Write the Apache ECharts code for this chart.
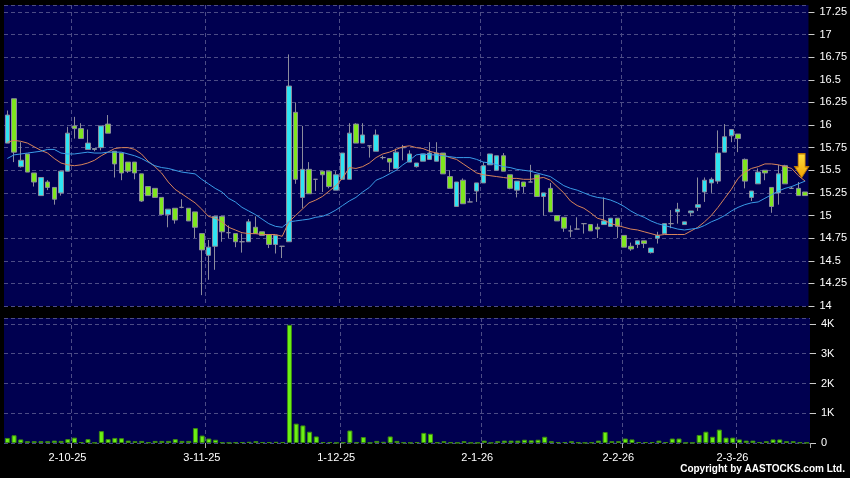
<!DOCTYPE html>
<html>
<head>
<meta charset="utf-8">
<script src="https://cdn.jsdelivr.net/npm/echarts@6/dist/echarts.min.js"></script>
<style>
html,body{margin:0;padding:0;background:#000;}
#chart{width:850px;height:478px;}
</style>
</head>
<body>
<div id="chart"></div>
<script>
const categories = ['17-9-25','18-9-25','19-9-25','22-9-25','23-9-25','24-9-25','25-9-25','26-9-25','29-9-25','30-9-25',
'2-10-25','3-10-25','6-10-25','8-10-25','9-10-25','10-10-25','13-10-25','14-10-25','15-10-25','16-10-25',
'17-10-25','20-10-25','21-10-25','22-10-25','23-10-25','24-10-25','27-10-25','28-10-25','30-10-25','31-10-25',
'3-11-25','4-11-25','5-11-25','6-11-25','7-11-25','10-11-25','11-11-25','12-11-25','13-11-25','14-11-25',
'17-11-25','18-11-25','19-11-25','20-11-25','21-11-25','24-11-25','25-11-25','26-11-25','27-11-25','28-11-25',
'1-12-25','2-12-25','3-12-25','4-12-25','5-12-25','8-12-25','9-12-25','10-12-25','11-12-25','12-12-25',
'15-12-25','16-12-25','17-12-25','18-12-25','19-12-25','22-12-25','23-12-25','24-12-25','29-12-25','30-12-25',
'31-12-25','2-1-26','5-1-26','6-1-26','7-1-26','8-1-26','9-1-26','12-1-26','13-1-26','14-1-26',
'15-1-26','16-1-26','19-1-26','20-1-26','21-1-26','22-1-26','23-1-26','26-1-26','27-1-26','28-1-26',
'29-1-26','30-1-26','2-2-26','3-2-26','4-2-26','5-2-26','6-2-26','9-2-26','10-2-26','11-2-26',
'12-2-26','13-2-26','16-2-26','20-2-26','23-2-26','24-2-26','25-2-26','26-2-26','27-2-26','2-3-26',
'3-3-26','4-3-26','5-3-26','6-3-26','9-3-26','10-3-26','11-3-26','12-3-26','13-3-26','16-3-26'];

const xTickLabels = ['2-10-25','3-11-25','1-12-25','2-1-26','2-2-26','2-3-26'];

const opens = [15.80,16.29,15.54,15.68,15.47,15.22,15.37,15.31,15.25,15.49,
15.99,15.96,15.73,15.73,15.75,16.01,15.71,15.69,15.59,15.59,
15.46,15.32,15.30,15.20,15.01,15.08,15.09,15.08,15.04,14.80,
14.56,14.66,14.99,14.81,14.80,14.71,14.71,14.87,14.82,14.79,
14.68,14.66,14.71,16.14,15.20,15.51,15.40,15.49,15.49,15.28,
15.40,15.40,16.01,15.80,15.77,15.71,15.64,15.63,15.52,15.75,
15.59,15.54,15.60,15.62,15.60,15.69,15.43,15.10,15.39,15.15,
15.27,15.36,15.56,15.50,15.66,15.45,15.28,15.37,15.37,15.45,
15.21,15.30,15.00,14.98,14.83,14.85,14.91,14.90,14.87,14.90,
14.88,14.97,14.78,14.66,14.68,14.72,14.59,14.75,14.80,14.91,
15.04,14.90,15.03,15.09,15.26,15.36,15.38,15.70,15.88,15.90,
15.62,15.20,15.35,15.50,15.31,15.25,15.55,15.30,15.30,15.26];

const closes = [16.11,15.70,15.61,15.48,15.37,15.42,15.31,15.18,15.49,15.91,
15.96,15.85,15.80,15.74,15.99,15.91,15.57,15.47,15.49,15.47,
15.16,15.22,15.20,15.01,15.07,14.95,15.09,14.94,14.87,14.62,
14.65,14.99,14.82,14.81,14.71,14.71,14.93,14.80,14.78,14.68,
14.78,14.66,16.43,15.40,15.51,15.24,15.40,15.45,15.32,15.45,
15.69,15.91,15.80,15.89,15.77,15.89,15.64,15.59,15.70,15.75,
15.68,15.58,15.68,15.69,15.69,15.46,15.30,15.37,15.13,15.15,
15.36,15.55,15.68,15.66,15.49,15.30,15.38,15.32,15.37,15.21,
15.25,15.04,14.94,14.86,14.83,14.85,14.91,14.83,14.85,14.94,
14.97,14.88,14.65,14.63,14.72,14.69,14.64,14.78,14.91,14.91,
15.07,14.93,15.05,15.12,15.39,15.40,15.69,15.87,15.95,15.85,
15.38,15.27,15.48,15.47,15.10,15.46,15.35,15.30,15.22,15.22];

const lows = [15.80,15.59,15.53,15.48,15.32,15.22,15.28,15.12,15.22,15.49,
15.85,15.85,15.73,15.71,15.72,15.91,15.42,15.39,15.47,15.40,
15.15,15.22,15.20,15.01,14.87,14.91,15.08,14.94,14.75,14.12,
14.29,14.40,14.71,14.75,14.65,14.59,14.71,14.80,14.78,14.64,
14.58,14.53,14.71,15.35,15.08,15.24,15.27,15.26,15.30,15.28,
15.40,15.40,15.80,15.80,15.64,15.71,15.62,15.48,15.52,15.61,
15.59,15.53,15.60,15.62,15.60,15.46,15.30,15.10,15.13,15.15,
15.15,15.36,15.56,15.50,15.49,15.29,15.20,15.25,15.37,15.21,
15.00,15.04,14.94,14.82,14.76,14.85,14.80,14.83,14.75,14.90,
14.88,14.75,14.65,14.61,14.64,14.64,14.58,14.69,14.80,14.86,
14.91,14.90,14.99,15.05,15.15,15.25,15.35,15.70,15.81,15.70,
15.30,15.16,15.35,15.39,15.03,15.12,15.35,15.30,15.22,15.22];

const highs = [16.16,16.29,15.81,15.68,15.47,15.42,15.39,15.31,15.49,15.98,
16.09,16.02,15.95,15.74,15.99,16.11,15.71,15.69,15.59,15.59,
15.46,15.32,15.30,15.20,15.07,15.08,15.18,15.08,15.04,14.80,
14.73,14.99,14.99,14.89,14.80,14.80,14.96,14.99,14.82,14.79,
14.78,14.66,16.78,16.25,15.99,15.59,15.40,15.49,15.49,15.49,
15.69,16.02,16.02,16.02,15.77,15.95,15.66,15.63,15.74,15.78,
15.72,15.58,15.68,15.81,15.81,15.69,15.50,15.37,15.41,15.19,
15.36,15.59,15.68,15.66,15.69,15.45,15.38,15.37,15.56,15.45,
15.25,15.36,15.00,14.98,14.89,14.98,14.91,14.90,14.91,15.20,
14.97,14.97,14.78,14.70,14.72,14.72,14.64,14.82,14.91,15.06,
15.14,14.93,15.05,15.42,15.42,15.42,15.94,16.01,15.95,15.90,
15.63,15.27,15.52,15.50,15.31,15.56,15.56,15.32,15.37,15.26];

const maShort = [15.81,15.83,15.82,15.80,15.76,15.72,15.69,15.63,15.58,15.56,
15.55,15.56,15.58,15.61,15.66,15.70,15.74,15.75,15.75,15.73,
15.68,15.60,15.54,15.47,15.37,15.29,15.24,15.19,15.14,15.07,
14.99,14.97,14.93,14.87,14.84,14.81,14.80,14.80,14.79,14.79,
14.79,14.77,14.93,15.00,15.07,15.14,15.17,15.21,15.27,15.33,
15.41,15.53,15.52,15.54,15.58,15.64,15.68,15.70,15.73,15.76,
15.77,15.75,15.74,15.71,15.69,15.67,15.64,15.62,15.57,15.52,
15.47,15.45,15.44,15.43,15.42,15.41,15.41,15.40,15.40,15.41,
15.42,15.39,15.32,15.25,15.16,15.11,15.08,15.03,14.97,14.95,
14.91,14.89,14.87,14.85,14.84,14.82,14.80,14.78,14.79,14.79,
14.79,14.79,14.83,14.87,14.93,15.00,15.09,15.19,15.29,15.41,
15.48,15.52,15.54,15.57,15.57,15.56,15.54,15.52,15.44,15.38];

const maLong = [15.63,15.67,15.68,15.69,15.70,15.71,15.73,15.73,15.69,15.68,
15.68,15.69,15.70,15.69,15.69,15.70,15.70,15.70,15.68,15.66,
15.63,15.59,15.55,15.53,15.52,15.50,15.48,15.47,15.46,15.40,
15.35,15.30,15.26,15.19,15.15,15.09,15.05,15.01,14.96,14.91,
14.88,14.87,14.93,14.94,14.95,14.96,14.98,14.99,15.02,15.06,
15.11,15.16,15.20,15.26,15.31,15.39,15.42,15.46,15.50,15.56,
15.61,15.67,15.68,15.67,15.67,15.66,15.65,15.64,15.64,15.64,
15.62,15.59,15.58,15.56,15.54,15.53,15.51,15.50,15.49,15.47,
15.45,15.43,15.38,15.33,15.30,15.28,15.25,15.22,15.20,15.19,
15.17,15.14,15.10,15.05,15.01,14.98,14.94,14.91,14.89,14.87,
14.85,14.84,14.85,14.86,14.89,14.93,14.96,15.00,15.05,15.09,
15.12,15.14,15.15,15.19,15.23,15.27,15.30,15.32,15.35,15.38];

const volumes = [170,260,120,60,60,60,60,80,70,130,
180,30,130,10,400,130,170,160,80,60,
70,20,70,70,70,130,70,70,500,250,
150,110,20,10,20,30,40,60,30,30,
40,30,3970,650,590,380,220,30,30,10,
20,420,20,200,10,70,40,220,70,20,
10,30,340,310,20,60,20,10,60,10,
10,80,10,60,80,80,80,110,90,110,
210,60,30,30,60,20,10,20,80,370,
60,60,150,120,30,30,30,80,30,150,
150,10,10,270,380,210,450,180,180,120,
80,80,30,60,120,120,60,60,20,10];

const arrowPrice = 15.55;

const FONT = 'Arial, "Liberation Sans", sans-serif';
const GRID_LINE = {color: '#4c4c86', type: [4, 3], width: 1};
const isTick = (i) => xTickLabels.indexOf(categories[i]) >= 0;
// boundary positions between trading days (one more than the days), used only for vertical grid lines
const boundaries = categories.concat(['end']);

const candleData = opens.map((o, i) => [o, closes[i], lows[i], highs[i]]);

const hiddenBoundaryAxis = (gridIndex) => ({
  type: 'category', gridIndex: gridIndex, data: boundaries, boundaryGap: false,
  axisLine: {show: false}, axisTick: {show: false}, axisLabel: {show: false},
  splitLine: {show: true, interval: (i) => isTick(i), lineStyle: GRID_LINE}
});

const chart = echarts.init(document.getElementById('chart'), null, {renderer: 'canvas'});
chart.setOption({
  backgroundColor: '#000000',
  animation: false,
  textStyle: {fontFamily: FONT},
  grid: [
    {left: 4, top: 5, width: 806, height: 301, show: true, backgroundColor: '#000050', borderWidth: 0},
    {left: 4, top: 318, width: 806, height: 125, show: true, backgroundColor: '#000050', borderWidth: 0}
  ],
  xAxis: [
    {type: 'category', gridIndex: 0, data: categories, boundaryGap: true,
     axisLine: {show: false}, axisTick: {show: false}, axisLabel: {show: false},
     splitLine: {show: false}},
    {type: 'category', gridIndex: 1, data: categories, boundaryGap: true,
     axisLine: {show: false},
     axisTick: {show: true, interval: (i) => isTick(i), length: 5, lineStyle: {color: '#aaaaaa'}},
     axisLabel: {show: true, interval: (i) => isTick(i), color: '#ffffff', fontSize: 11, fontFamily: FONT, margin: 9, padding: [0, 14, 0, 0]},
     splitLine: {show: false}},
    hiddenBoundaryAxis(0),
    hiddenBoundaryAxis(1)
  ],
  yAxis: [
    {type: 'value', gridIndex: 0, position: 'right', min: 14, max: 17.326, interval: 0.25,
     axisLine: {show: false},
     axisTick: {show: true, length: 6, lineStyle: {color: '#cccccc'}},
     axisLabel: {color: '#ffffff', fontSize: 11, fontFamily: FONT, margin: 11, showMaxLabel: false},
     splitLine: {show: true, lineStyle: GRID_LINE}},
    {type: 'value', gridIndex: 1, position: 'right', min: 0, max: 4200, interval: 1000,
     axisLine: {show: false},
     axisTick: {show: true, length: 6, lineStyle: {color: '#cccccc'}},
     axisLabel: {color: '#ffffff', fontSize: 11, fontFamily: FONT, margin: 11, showMaxLabel: false,
       formatter: (v) => v === 0 ? '0' : (v / 1000) + 'K'},
     splitLine: {show: true, lineStyle: GRID_LINE}}
  ],
  series: [
    {type: 'candlestick', xAxisIndex: 0, yAxisIndex: 0, data: candleData, barWidth: 5,
     itemStyle: {color: '#2ee4f2', color0: '#7ee61e', borderColor: '#8c8c9c', borderColor0: '#8c8c9c',
       borderColorDoji: '#8c8c9c', borderWidth: 1},
     markPoint: {
       silent: true,
       label: {show: false},
       data: [{coord: [categories[categories.length - 1], arrowPrice],
         symbol: 'path://M3.5,0 L10.5,0 L10.5,13 L14,13 L7,24 L0,13 L3.5,13 Z',
         symbolSize: [14, 24], symbolOffset: [-3.5, 0],
         itemStyle: {color: {type: 'linear', x: 0, y: 0, x2: 0, y2: 1,
           colorStops: [{offset: 0, color: '#ffe040'}, {offset: 1, color: '#f0a000'}]},
           borderColor: '#c07800', borderWidth: 1}}]
     }},
    {type: 'line', xAxisIndex: 0, yAxisIndex: 0, data: maShort, showSymbol: false, symbol: 'none',
     lineStyle: {color: '#d8845a', width: 1}, z: 3},
    {type: 'line', xAxisIndex: 0, yAxisIndex: 0, data: maLong, showSymbol: false, symbol: 'none',
     lineStyle: {color: '#3a9ce8', width: 1}, z: 3},
    {type: 'bar', xAxisIndex: 1, yAxisIndex: 1, data: volumes, barWidth: 5,
     itemStyle: {color: '#6cf014', borderColor: '#3c8c10', borderWidth: 1}}
  ],
  graphic: [
    {type: 'text', right: 5, top: 464, style: {text: 'Copyright by AASTOCKS.com Ltd.', fill: '#ffffff',
      font: 'bold 10px ' + FONT}}
  ]
});
</script>
</body>
</html>
